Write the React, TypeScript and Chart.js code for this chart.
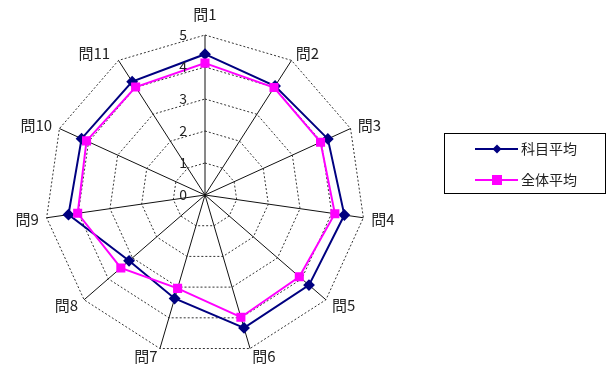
import React, { useEffect, useRef } from "react";
import { Chart, registerables } from "chart.js";

Chart.register(...registerables);

const categories = ["問1", "問2", "問3", "問4", "問5", "問6", "問7", "問8", "問9", "問10", "問11"];
const kamokuAvg = [4.4, 4.05, 4.22, 4.4, 4.3, 4.33, 3.37, 3.14, 4.31, 4.24, 4.21];
const zentaiAvg = [4.12, 3.99, 3.97, 4.1, 3.9, 3.98, 3.04, 3.48, 4.02, 4.07, 4.01];
const tickValues = [0, 1, 2, 3, 4, 5];
const seriesNames = ["科目平均", "全体平均"];

const FONT = '"Noto Sans CJK JP", "Noto Sans", sans-serif';

const labelsPlugin = {
  id: "customLabels",
  afterDraw(chart: any) {
    const ctx = chart.ctx;
    const scale = chart.scales.r;
    const R = scale.getDistanceFromCenterForValue(5);
    ctx.save();
    // tick labels
    ctx.font = `14px ${FONT}`;
    ctx.fillStyle = "#222";
    ctx.textAlign = "right";
    ctx.textBaseline = "middle";
    tickValues.forEach((v) => {
      const d = scale.getDistanceFromCenterForValue(v);
      ctx.fillText(String(v), scale.xCenter - 18, scale.yCenter - d);
    });
    // point labels
    ctx.font = `15px ${FONT}`;
    ctx.fillStyle = "#222";
    categories.forEach((c, i) => {
      const p = scale.getPointPosition(i, R + 8);
      const s = Math.sin(p.angle + Math.PI / 2);
      let x = p.x;
      let y = p.y;
      if (Math.abs(s) < 0.1) {
        ctx.textAlign = "center";
        if (Math.cos(p.angle + Math.PI / 2) > 0) y = scale.yCenter - R - 21;
      } else if (s > 0) {
        ctx.textAlign = "left";
      } else {
        ctx.textAlign = "right";
      }
      if (i === 10) x -= 4;
      ctx.textBaseline = "middle";
      ctx.fillText(c, x, y);
    });
    // legend
    const bx = 444, by = 133, bw = 161, bh = 60;
    ctx.strokeStyle = "#000";
    ctx.lineWidth = 1;
    ctx.strokeRect(bx + 0.5, by + 0.5, bw, bh);
    const ds = chart.data.datasets;
    const rows = [149, 180];
    ds.forEach((d: any, i: number) => {
      const y = rows[i];
      ctx.strokeStyle = d.borderColor;
      ctx.lineWidth = 2;
      ctx.beginPath();
      ctx.moveTo(475, y);
      ctx.lineTo(518, y);
      ctx.stroke();
      ctx.fillStyle = d.pointBackgroundColor;
      if (i === 0) {
        ctx.beginPath();
        ctx.moveTo(497, y - 4.5);
        ctx.lineTo(501.5, y);
        ctx.lineTo(497, y + 4.5);
        ctx.lineTo(492.5, y);
        ctx.closePath();
        ctx.fill();
      } else {
        ctx.fillRect(492, y - 5, 10, 10);
      }
      ctx.fillStyle = "#222";
      ctx.font = `14px ${FONT}`;
      ctx.textAlign = "left";
      ctx.textBaseline = "middle";
      ctx.fillText(seriesNames[i], 521, y);
    });
    ctx.restore();
  },
};

export default function App() {
  const ref = useRef<HTMLCanvasElement>(null);
  useEffect(() => {
    if (!ref.current) return;
    const chart = new Chart(ref.current, {
      type: "radar",
      data: {
        labels: categories,
        datasets: [
          {
            label: seriesNames[0],
            data: kamokuAvg,
            borderColor: "#000080",
            backgroundColor: "#000080",
            pointBackgroundColor: "#000080",
            pointBorderColor: "#000080",
            pointStyle: "rectRot",
            pointRadius: 4.5,
            borderWidth: 2,
            fill: false,
            order: 1,
          },
          {
            label: seriesNames[1],
            data: zentaiAvg,
            borderColor: "#ff00ff",
            backgroundColor: "#ff00ff",
            pointBackgroundColor: "#ff00ff",
            pointBorderColor: "#ff00ff",
            pointStyle: "rect",
            pointRadius: 5,
            borderWidth: 2,
            fill: false,
            order: 0,
          },
        ],
      },
      options: {
        responsive: false,
        animation: false,
        devicePixelRatio: 1,
        layout: { padding: { left: 44, right: 241, top: 35, bottom: 10 } },
        plugins: { legend: { display: false }, tooltip: { enabled: false } },
        elements: { line: { tension: 0 } },
        scales: {
          r: {
            min: 0,
            max: 5,
            ticks: { display: false, stepSize: 1 },
            pointLabels: { display: false },
            grid: { color: "#333", lineWidth: 1 },
            border: { dash: [2, 2] } as any,
            angleLines: { color: "#111", lineWidth: 1 },
          },
        },
      },
      plugins: [labelsPlugin],
    });
    return () => chart.destroy();
  }, []);
  return (
    <div style={{ position: "fixed", left: 0, top: 0, width: 607, height: 366, background: "#fff" }}>
      <canvas ref={ref} width={607} height={366} />
    </div>
  );
}
